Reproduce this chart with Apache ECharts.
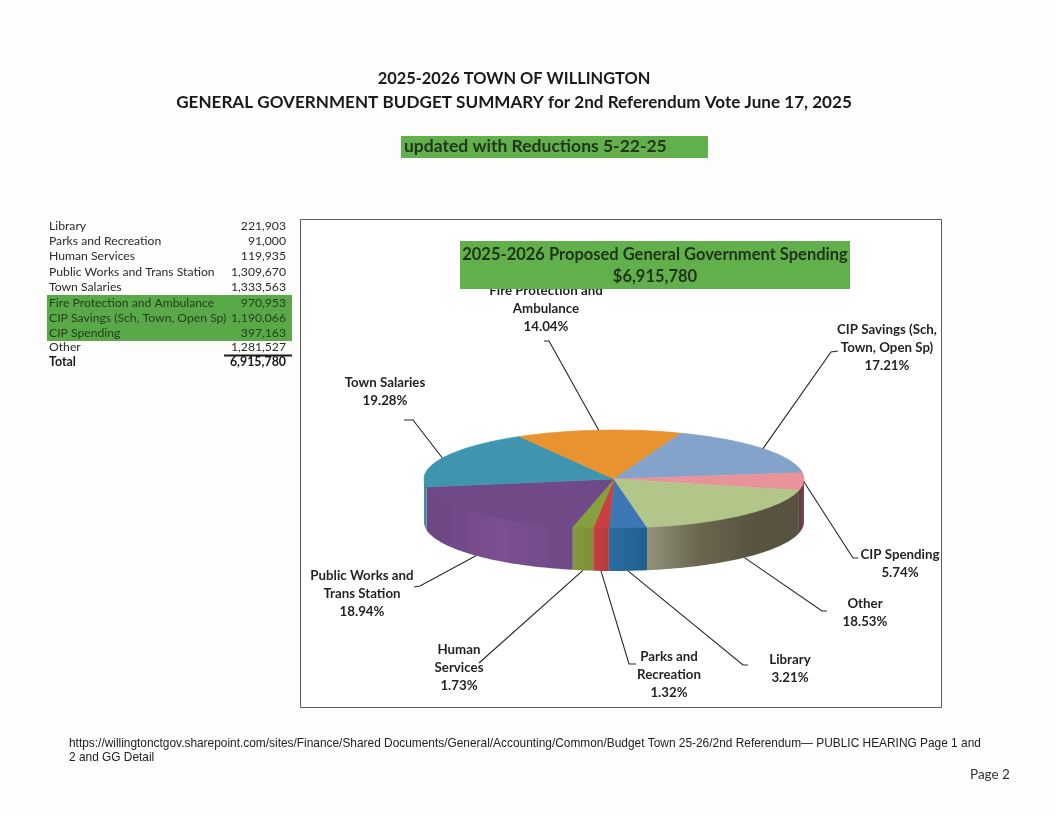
<!DOCTYPE html>
<html><head><meta charset="utf-8">
<style>html,body{margin:0;padding:0;background:#fdfdfc}#c{width:1056px;height:816px}</style>
<script src="https://cdn.jsdelivr.net/npm/echarts@6/dist/echarts.min.js"></script>
</head><body><div id="c"></div>
<script>
const categories = ['Library','Parks and Recreation','Human Services','Public Works and Trans Station','Town Salaries','Fire Protection and Ambulance','CIP Savings (Sch, Town, Open Sp)','CIP Spending','Other'];
const amounts = [221903,91000,119935,1309670,1333563,970953,1190066,397163,1281527];
const totalAmount = 6915780;
const chartLabelNames = ['Library','Parks and\nRecreation','Human\nServices','Public Works and\nTrans Station','Town Salaries','Fire Protection and\nAmbulance','CIP Savings (Sch,\nTown, Open Sp)','CIP Spending','Other'];
const topColors = ['#3d78b5','#c8403f','#86a03b','#6f4a86','#3f95ae','#e8932f','#84a3cb','#e8939a','#b3c68a'];
const sideColors = [['#2a6da3','#1f5f8e'],['#c4403f','#b53a3a'],['#86973a','#7f9136'],['#6a4682','#7c4f90','#6d4a85'],['#3c8ea6','#3c8ea6'],['#c07a28','#c07a28'],['#6f8cb0','#6f8cb0'],['#60383e','#7a4a50'],['#92927a','#6b6751','#5a5540','#575240']];
const labelPos = [[790,669],[669,674.5],[459,668],[362,593.5],[385,392],[546,309],[887,347.5],[900,563.5],[865,612.5]];
const leaderElbow = [[[743,665],[748,665]],[[629,664],[636,664]],[[479,663]],[[420,586],[414,587]],[[413,420],[404,420]],[[549,341],[544,341]],[[831,352],[838,351]],[[853,558],[858,558]],[[822,611],[827,611]]];
const highlighted = [5,6,7];

const cx=614, cy=479, rx=190, ry=49, depth=43, startDeg=170;
const total = amounts.reduce((a,b)=>a+b,0);
const fmt = n => n.toLocaleString('en-US');
const pt = (deg,dy=0) => { const t=deg*Math.PI/180; return [cx+rx*Math.sin(t), cy-ry*Math.cos(t)+dy]; };
function arc(a,b,dy=0){ const n=Math.max(2,Math.ceil(Math.abs(b-a)/1.5)); const out=[]; for(let i=0;i<=n;i++) out.push(pt(a+(b-a)*i/n,dy)); return out; }
const labelFont = 'bold 13.3px Lato';

function renderSlice(params){
  const i = params.dataIndex;
  let a = startDeg; for(let k=0;k<i;k++) a += amounts[k]/total*360;
  const b = a + amounts[i]/total*360, mid=(a+b)/2, children=[];
  // visible front wall: angles 90..270, also one turn later
  [0,360].forEach(turn=>{
    const lo=Math.max(a,90+turn), hi=Math.min(b,270+turn);
    if(hi>lo){
      const top=arc(lo,hi,-1.5), bot=arc(lo,hi,depth).reverse();
      const cols=sideColors[i];
      children.push({type:'polygon',shape:{points:top.concat(bot)},z2:1,style:{
        fill:new echarts.graphic.LinearGradient(0,0,1,0,cols.map((c,k)=>({offset:k/(cols.length-1),color:c}))),stroke:null}});
    }
  });
  children.push({type:'polygon',shape:{points:[[cx,cy]].concat(arc(a,b))},z2:2,style:{fill:topColors[i],stroke:topColors[i],lineWidth:0.6}});
  const m=((mid%360)+360)%360;
  const start=pt(mid,(m>100&&m<260)?depth:0);
  children.push({type:'polyline',shape:{points:[start].concat(leaderElbow[i])},z2:3,style:{stroke:'#262626',lineWidth:1.1,fill:null}});
  const pct=(amounts[i]/total*100).toFixed(2)+'%';
  children.push({type:'text',z2:4,style:{text:chartLabelNames[i]+'\n'+pct,x:labelPos[i][0],y:labelPos[i][1],align:'center',verticalAlign:'middle',font:labelFont,lineHeight:18,fill:'#1f2320'}});
  return {type:'group',children};
}

const tableY=[226,241,256.5,272,287.5,303,318,333,347,362];
const tableFont='12.2px Lato', tableBold='bold 12.4px Lato';
const graphics=[
  {type:'rect',shape:{x:300.5,y:219.5,width:641,height:488},style:{fill:'#fff',stroke:'#5a5a5a',lineWidth:1},z:0},
  {type:'text',style:{text:'2025-2026 TOWN OF WILLINGTON',x:514,y:79,align:'center',verticalAlign:'middle',font:'bold 16.4px Lato',fill:'#1a1a1a'},z:1},
  {type:'text',style:{text:'GENERAL GOVERNMENT BUDGET SUMMARY for 2nd Referendum Vote June 17, 2025',x:514,y:102,align:'center',verticalAlign:'middle',font:'bold 17.1px Lato',fill:'#1a1a1a'},z:1},
  {type:'rect',shape:{x:401,y:136,width:307,height:22},style:{fill:'#62b04c'},z:1},
  {type:'text',style:{text:'updated with Reductions 5-22-25',x:404,y:146,verticalAlign:'middle',font:'bold 17.5px Lato',fill:'#23351c'},z:2},
  {type:'rect',shape:{x:460,y:241,width:390,height:48},style:{fill:'#62b04c'},z:10},
  {type:'text',style:{text:'2025-2026 Proposed General Government Spending',x:655,y:255,align:'center',verticalAlign:'middle',font:'bold 16.5px Lato',fill:'#1f3318'},z:11},
  {type:'text',style:{text:'$6,915,780',x:655,y:277,align:'center',verticalAlign:'middle',font:'bold 16.5px Lato',fill:'#1f3318'},z:11},
  {type:'rect',shape:{x:47,y:295,width:245,height:46},style:{fill:'#5aa948'},z:1},
  {type:'rect',shape:{x:224,y:354.5,width:68,height:2},style:{fill:'#1a1a1a'},z:2},
  {type:'text',style:{text:'https://willingtonctgov.sharepoint.com/sites/Finance/Shared Documents/General/Accounting/Common/Budget Town 25-26/2nd Referendum— PUBLIC HEARING Page 1 and\n2 and GG Detail',x:69,y:737,verticalAlign:'top',font:'11.9px "Liberation Sans"',lineHeight:13.5,fill:'#222'},z:1},
  {type:'text',style:{text:'Page 2',x:970,y:775,verticalAlign:'middle',font:'13.5px Lato',fill:'#333'},z:1}
];
categories.forEach((c,i)=>{
  const ink=highlighted.includes(i)?'#24401c':'#2a2a2a';
  graphics.push({type:'text',style:{text:c,x:49,y:tableY[i],verticalAlign:'middle',font:tableFont,fill:ink},z:3});
  graphics.push({type:'text',style:{text:fmt(amounts[i]),x:286,y:tableY[i],align:'right',verticalAlign:'middle',font:tableFont,fill:ink},z:3});
});
graphics.push({type:'text',style:{text:'Total',x:49,y:tableY[9],verticalAlign:'middle',font:tableBold,fill:'#1a1a1a'},z:3});
graphics.push({type:'text',style:{text:fmt(totalAmount),x:286,y:tableY[9],align:'right',verticalAlign:'middle',font:tableBold,fill:'#1a1a1a'},z:3});

const chart=echarts.init(document.getElementById('c'),null,{renderer:'canvas'});
chart.setOption({
  animation:false,
  backgroundColor:'#fdfdfc',
  graphic:{elements:graphics},
  series:[{type:'custom',coordinateSystem:'none',name:'2025-2026 Proposed General Government Spending',z:5,
    renderItem:renderSlice,
    data:categories.map((c,i)=>({name:c,value:amounts[i]}))}]
});
</script></body></html>
